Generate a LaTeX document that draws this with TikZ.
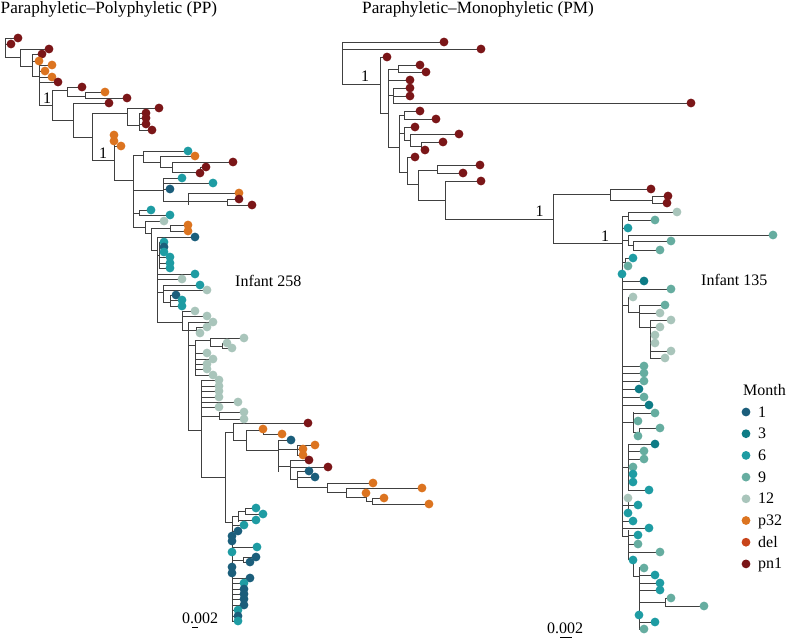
\documentclass[tikz,border=0pt]{standalone}
\usepackage{fontspec}
\setmainfont{Liberation Serif}
\definecolor{m1}{HTML}{1B5E7B}
\definecolor{m3}{HTML}{0E7C86}
\definecolor{m6}{HTML}{1E9CA3}
\definecolor{m9}{HTML}{66ADA0}
\definecolor{m12}{HTML}{A9C5BB}
\definecolor{pt}{HTML}{DC7420}
\definecolor{dl}{HTML}{C8441A}
\definecolor{pn}{HTML}{7B1618}
\begin{document}
\begin{tikzpicture}[x=1pt, y=-1pt, br/.style={black!75, line width=0.8pt},
  lbl/.style={inner sep=0pt, font=\fontsize{16}{18}\selectfont},
  ttl/.style={inner sep=0pt, font=\fontsize{17.2}{19}\selectfont}]
\useasboundingbox (0,0) rectangle (787,638);
% left tree: Infant 258
\foreach \x/\a/\b in {5/38/57, 20/49/66, 32/54/76, 39/65/105, 52/90/120, 67/87/96, 85/92/98,
  73/103/137, 92/113/160, 127/108/125, 139/113/130, 114/135/180, 133/155/227, 143/151/162,
  160/156/167, 172/162/172, 200/167/173, 163/178/201, 188/193/205, 227/199/205, 139/210/215,
  145/221/233, 151/228/250, 170/225/231, 157/237/322, 159/242/268, 163/285/302, 170/295/306,
  182/311/330, 188/322/430, 196/327/333, 195/340/375, 210/338/346, 222/343/348, 201/380/477,
  219/412/419, 225/432/522, 233/423/440, 246/430/450, 263/429/434, 278/440/472, 297/445/455,
  290/460/480, 297/471/487, 327/483/492, 346/488/497, 366/493/501, 372/498/504, 232/516/621,
  238/511/522, 245/508/514, 243/557/562}
  \draw[br] (\x,\a) -- (\x,\b);
\foreach \a/\b/\y in {5/18/38, 5/11/44, 5/20/57, 20/49/49, 20/32/66, 32/42/54, 32/39/61, 32/39/76,
  39/52/65, 39/45/71, 39/52/77, 39/58/82, 39/52/105, 52/67/90, 67/82/87, 67/85/96, 85/105/92,
  85/127/98, 52/73/120, 73/109/103, 73/92/137, 92/127/113, 127/159/108, 127/139/125, 139/146/113,
  139/146/118, 139/146/124, 139/152/130, 92/114/160, 114/121/146, 114/133/180, 133/143/155,
  143/188/151, 143/160/162, 160/195/156, 160/172/167, 172/233/162, 172/200/172, 200/206/167,
  163/182/178, 133/163/190, 163/213/183, 163/170/189, 163/188/201, 188/239/193, 188/227/201,
  227/239/199, 227/252/205, 133/139/213, 139/151/210, 139/170/215, 133/145/227, 145/164/221,
  145/151/233, 151/170/228, 170/188/225, 170/188/231, 151/157/250, 157/195/237, 157/159/255,
  159/164/242, 159/164/247, 159/164/252, 159/170/257, 159/170/263, 159/170/268, 157/195/274,
  157/182/279, 157/163/292, 163/200/285, 163/207/290, 163/170/302, 170/176/295, 170/182/300,
  170/182/306, 157/182/322, 182/195/311, 182/207/316, 182/188/330, 188/213/322, 188/196/330,
  196/207/327, 196/200/333, 188/195/345, 195/210/340, 210/244/338, 210/222/346, 222/227/343,
  222/232/348, 195/207/353, 195/213/359, 195/207/364, 195/207/369, 195/213/375, 188/201/430,
  201/219/380, 201/219/386, 201/219/391, 201/219/397, 201/238/402, 201/219/407, 201/219/416,
  219/244/412, 219/244/419, 201/225/477, 225/233/432, 233/308/423, 233/246/440, 246/263/430,
  263/282/434, 246/278/450, 278/291/440, 278/297/449, 297/315/445, 297/303/449, 297/303/455,
  278/290/466, 290/309/460, 290/328/467, 290/297/479, 297/309/471, 297/315/477, 297/327/487,
  327/373/483, 327/346/492, 346/422/488, 346/366/497, 366/372/501, 372/384/498, 372/429/504,
  225/232/522, 232/238/516, 238/245/511, 245/256/508, 245/263/514, 238/256/520, 232/244/525,
  232/238/531, 232/257/547, 232/243/560, 243/256/557, 243/250/562, 232/250/578, 232/244/583,
  232/244/589, 232/244/594, 232/244/599, 232/244/605, 232/238/610, 232/238/616, 232/238/621}
  \draw[br] (\a,\y) -- (\b,\y);
\foreach \x/\y/\c in {18/38/pn, 11/44/pn, 49/49/pn, 42/54/pn, 39/61/pt, 52/65/pt, 45/71/pt,
  52/77/pt, 58/82/pn, 82/87/pn, 105/92/pt, 127/98/pn, 109/103/pn, 159/108/pn, 146/113/pn,
  146/118/pn, 146/124/pn, 152/130/pn, 114/135/pt, 114/141/pt, 121/146/pt, 188/151/m6, 195/156/pt,
  233/162/pn, 206/167/pn, 200/173/pn, 182/178/m6, 213/183/m6, 170/189/m1, 239/193/pt, 239/199/pn,
  252/205/pn, 151/210/m6, 170/215/m6, 164/221/m12, 188/225/pt, 188/231/pt, 195/237/m1,
  164/242/m6, 164/247/m1, 164/252/m6, 170/257/m6, 170/263/m6, 170/268/m6, 195/274/m6,
  182/279/m12, 200/285/m6, 207/290/m12, 176/295/m1, 182/300/m6, 182/306/m6, 195/311/m12,
  207/316/m12, 213/322/m12, 207/327/m12, 200/333/m12, 244/338/m12, 227/343/m12, 232/348/m12,
  207/353/m12, 213/359/m12, 207/364/m12, 207/369/m12, 213/375/m12, 219/380/m12, 219/386/m12,
  219/391/m12, 219/397/m12, 238/402/m12, 219/407/m12, 244/412/m12, 244/419/m12, 308/423/pn,
  263/429/pt, 282/434/pt, 291/440/m1, 315/445/pt, 303/449/pt, 303/455/pt, 309/460/pn, 328/467/pn,
  309/471/m1, 315/477/m1, 373/483/pt, 422/488/pt, 366/493/pt, 384/498/pt, 429/504/pt,
  256/508/m6, 263/514/m6, 256/520/m6, 244/525/m6, 238/531/m1, 232/536/m1, 232/541/m1,
  257/547/m6, 232/552/m6, 256/557/m1, 250/562/m1, 232/567/m1, 232/573/m1, 250/578/m1,
  244/583/m6, 244/589/m1, 244/594/m1, 244/599/m1, 244/605/m1, 238/610/m6, 238/616/m1, 238/621/m6}
  \fill[\c] (\x,\y) circle (4.4pt);
% right tree: Infant 135
\foreach \x/\a/\b in {342/42/84, 380/57/113, 388/69/147, 398/65/72, 393/88/103, 399/115/172,
  404/111/119, 404/127/140, 410/134/146, 421/142/150, 407/157/184, 418/170/200, 437/165/173,
  445/181/219, 553/194/243, 610/189/200, 652/196/203, 622/216/536, 628/212/220, 628/235/245,
  633/241/250, 625/258/266, 628/297/312, 639/305/327, 650/320/358, 633/412/432, 639/428/436,
  628/444/490, 628/498/513, 628/530/560, 633/560/576, 639/567/629, 665/598/606}
  \draw[br] (\x,\a) -- (\x,\b);
\foreach \a/\b/\y in {342/444/42, 342/481/49, 342/380/84, 380/387/57, 380/388/113, 388/398/69,
  398/420/65, 398/426/72, 388/410/80, 388/393/95, 393/410/88, 393/410/96, 393/691/103,
  388/399/147, 399/404/115, 404/420/111, 404/436/119, 399/404/133, 404/415/127, 404/410/140,
  410/459/134, 410/421/146, 421/443/142, 421/425/150, 399/407/172, 407/415/157, 407/418/184,
  418/437/170, 437/480/165, 437/463/173, 418/445/200, 445/481/181, 445/553/219, 553/610/194,
  610/651/189, 610/652/200, 652/668/196, 652/667/203, 553/622/243, 622/628/216, 628/677/212,
  628/655/220, 622/628/228, 622/628/240, 628/773/235, 628/633/245, 633/671/241, 633/660/250,
  622/625/262, 625/633/258, 625/628/266, 622/644/281, 622/671/289, 622/628/305, 628/633/297,
  628/639/312, 639/665/305, 639/660/313, 639/650/327, 650/671/320, 650/660/327, 650/655/335,
  650/655/343, 650/671/351, 650/665/358, 622/644/366, 622/644/373, 622/644/381, 622/639/389,
  622/644/397, 622/649/405, 622/633/422, 633/655/413, 633/638/421, 633/639/432, 639/660/428,
  622/628/467, 628/655/444, 628/644/451, 628/644/459, 628/633/467, 628/633/474, 628/633/482,
  628/649/490, 622/628/505, 628/638/505, 622/633/521, 622/649/528, 622/628/536, 628/638/535,
  628/638/544, 628/660/552, 633/639/576, 639/644/568, 639/655/575, 639/660/583, 639/660/590,
  639/665/602, 665/671/598, 665/704/606, 639/655/622, 639/644/629}
  \draw[br] (\a,\y) -- (\b,\y);
\foreach \x/\y/\c in {444/42/pn, 481/49/pn, 387/57/pn, 420/65/pn, 426/72/pn, 410/80/pn, 410/88/pn,
  410/96/pn, 691/103/pn, 420/111/pn, 436/119/pn, 415/127/pn, 459/134/pn, 443/142/pn, 425/150/pn,
  415/157/pn, 480/165/pn, 463/173/pn, 481/181/pn, 651/189/pn, 668/196/pn, 667/203/pn,
  677/212/m12, 655/220/m9, 628/228/m6, 773/235/m9, 671/241/m9, 660/250/m9, 633/258/m6,
  628/266/m9, 622/274/m6, 644/281/m3, 671/289/m9, 633/297/m12, 665/305/m9, 660/313/m12,
  671/320/m12, 660/327/m12, 655/335/m12, 655/343/m12, 671/351/m12, 665/358/m12, 644/366/m9,
  644/373/m9, 644/381/m9, 639/389/m3, 644/397/m9, 649/405/m3, 655/413/m9, 638/421/m9, 660/428/m9,
  638/436/m9, 655/444/m3, 644/451/m9, 644/459/m9, 633/467/m9, 633/474/m6, 633/482/m6, 649/490/m6,
  628/498/m12, 638/505/m6, 628/513/m6, 633/521/m6, 649/528/m6, 638/535/m6, 638/544/m9,
  660/552/m9, 633/560/m6, 644/568/m9, 655/575/m6, 660/583/m6, 660/590/m6, 671/598/m9,
  704/606/m9, 639/615/m6, 655/622/m6, 644/629/m9}
  \fill[\c] (\x,\y) circle (4.4pt);
% support labels
\node[lbl] (s1) at (47,98.5) {1};
\node[lbl] (s2) at (103,153) {1};
\node[lbl] (s3) at (365,76) {1};
\node[lbl] (s4) at (539.5,211) {1};
\node[lbl] (s5) at (605,236) {1};
% titles and names
\node[ttl, anchor=base west] (tpp) at (0.5,13.5) {Paraphyletic–Polyphyletic (PP)};
\node[ttl, anchor=base west] (tpm) at (362,13.5) {Paraphyletic–Monophyletic (PM)};
\node[lbl, anchor=base west] (i258) at (235,286) {Infant 258};
\node[lbl, anchor=base west] (i135) at (701,285) {Infant 135};
% scale bars
\node[lbl, anchor=base west] (sc1) at (182,623) {0.002};
\draw[black, line width=0.8pt] (192,627) -- (198,627);
\node[lbl, anchor=base west] (sc2) at (547,633) {0.002};
\draw[black, line width=0.8pt] (560,637) -- (572,637);
% legend
\node[lbl, anchor=base west] (month) at (743,395) {Month};
\foreach \t/\c [count=\i from 0] in {1/m1, 3/m3, 6/m6, 9/m9, 12/m12, p32/pt, del/dl, pn1/pn} {
  \fill[\c] (746,412+21.7*\i) circle (4.4pt);
  \node[lbl, anchor=base west] (k\i) at (758,417+21.7*\i) {\t};
}
\end{tikzpicture}
\end{document}
